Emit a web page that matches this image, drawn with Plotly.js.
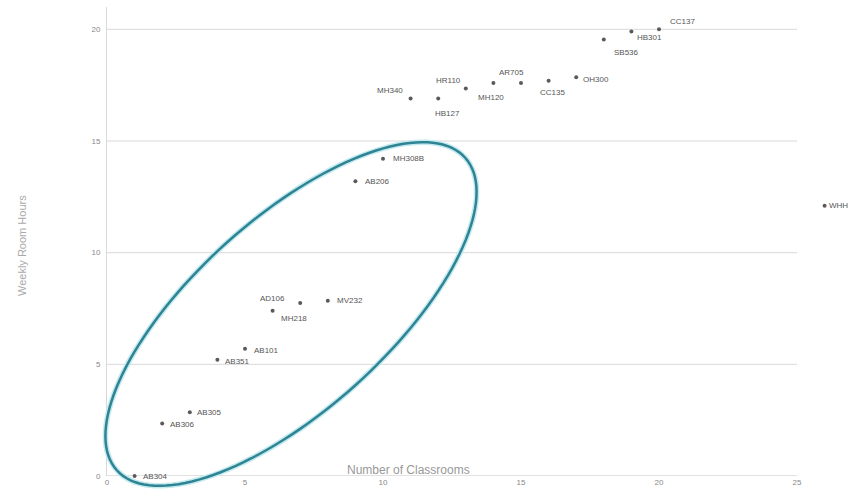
<!DOCTYPE html>
<html>
<head>
<meta charset="utf-8">
<script src="https://cdn.plot.ly/plotly-3.0.1.min.js"></script>
<style>html,body{margin:0;padding:0;background:#fff;}#chart{width:850px;height:498px;}</style>
</head>
<body>
<div id="chart"></div>
<script>
// Data
const rooms = ["CC137","HB301","SB536","OH300","CC135","AR705","MH120","HR110","HB127","MH340",
               "MH308B","AB206","AD106","MV232","MH218","AB101","AB351","AB305","AB306","AB304","WHH"];
const classrooms = [20, 19, 18, 17, 16, 15, 14, 13, 12, 11,
                    10, 9, 7, 8, 6, 5, 4, 3, 2, 1, 26];
const roomHours = [20.0, 19.9, 19.55, 17.85, 17.7, 17.6, 17.6, 17.35, 16.9, 16.9,
                   14.2, 13.2, 7.75, 7.85, 7.4, 5.7, 5.2, 2.85, 2.35, 0.0, 12.1];
const xTicks = [0, 5, 10, 15, 20, 25];
const yTicks = [0, 5, 10, 15, 20];

// Label offsets in pixels (style only): centre of label relative to its point
const labelDx = [23, 18, 23, 20, 4, -10, -2, -17, 9, -21, 25, 22, -28, 22, 21, 21, 20, 20, 20, 21, 14];
const labelDy = [-8, 6, 13, 2, 12, -10, 15, -8, 15, -8, 0, 0, -4, 0, 8, 2, 2, 0, 1, 0, 0];

const L = 107, R = 0, T = 7, B = 22, W = 850, H = 498;
const axisEndPx = 797;                       // where the drawn x axis (0..25) ends
const xMaxShown = xTicks[xTicks.length - 1];
const pw = W - L - R, ph = H - T - B;
const xr = [0, xMaxShown * pw / (axisEndPx - L)], yr = [0, 21];

// Ellipse outline, described in pixels, converted to paper coords (unclipped)
const cx = 291, cy = 314, a = 234, b = 96, ang = -41.9 * Math.PI / 180;
let path = "";
for (let i = 0; i <= 144; i++) {
  const t = i / 144 * 2 * Math.PI;
  const ex = a * Math.cos(t), ey = b * Math.sin(t);
  const qx = cx + ex * Math.cos(ang) - ey * Math.sin(ang);
  const qy = cy + ex * Math.sin(ang) + ey * Math.cos(ang);
  path += (i === 0 ? "M " : " L ") + ((qx - L) / pw).toFixed(5) + "," + ((H - B - qy) / ph).toFixed(5);
}
path += " Z";

const trace = {
  type: "scatter",
  mode: "markers",
  x: classrooms,
  y: roomHours,
  marker: {size: 4, color: "#5a5a5a"},
  cliponaxis: false,
  hoverinfo: "none"
};

const labelAnns = rooms.map((r, i) => ({
  text: r, x: classrooms[i], y: roomHours[i], xref: "x", yref: "y",
  showarrow: false, xanchor: "center", yanchor: "middle",
  xshift: labelDx[i], yshift: -labelDy[i],
  font: {family: "Liberation Sans, Arial, sans-serif", size: 8, color: "#555"}
}));

const gridShapes = yTicks.map(v => ({
  type: "line", xref: "x", yref: "y", x0: 0, x1: xMaxShown, y0: v, y1: v,
  line: {color: v === 0 ? "#c4c4c4" : "#d9d9d9", width: 1}, layer: "below"
}));

const layout = {
  width: W, height: H,
  margin: {l: L, r: R, t: T, b: B},
  paper_bgcolor: "#fff", plot_bgcolor: "#fff",
  showlegend: false,
  font: {family: "Liberation Sans, Arial, sans-serif", color: "#888"},
  xaxis: {
    range: xr, tickvals: xTicks, ticktext: xTicks.map(String),
    showgrid: false, zeroline: false, showline: false,
    ticks: "", tickfont: {size: 8, color: "#888"}, fixedrange: true
  },
  yaxis: {
    range: yr, tickvals: yTicks, ticktext: yTicks.map(String),
    showgrid: false, zeroline: false, showline: true, linecolor: "#d9d9d9", linewidth: 1,
    ticks: "", tickfont: {size: 8, color: "#888"}, ticklabelstandoff: 4, fixedrange: true
  },
  shapes: gridShapes.concat([
    {type: "path", xref: "paper", yref: "paper", path: path, line: {color: "#c4eaf0", width: 5.5}, layer: "above"},
    {type: "path", xref: "paper", yref: "paper", path: path, line: {color: "#2e8493", width: 2.5}, layer: "above"}
  ]),
  annotations: labelAnns.concat([
    {text: "Number of Classrooms", xref: "paper", yref: "paper", x: (408 - L) / pw, y: (H - B - 470) / ph,
     showarrow: false, xanchor: "center", yanchor: "middle", font: {size: 12, color: "#999"}},
    {text: "Weekly Room Hours", xref: "paper", yref: "paper", x: (22 - L) / pw, y: (H - B - 246) / ph,
     showarrow: false, textangle: -90, xanchor: "center", yanchor: "middle", font: {size: 11, color: "#aaa"}}
  ])
};

Plotly.newPlot("chart", [trace], layout, {displayModeBar: false, staticPlot: true});
</script>
</body>
</html>
